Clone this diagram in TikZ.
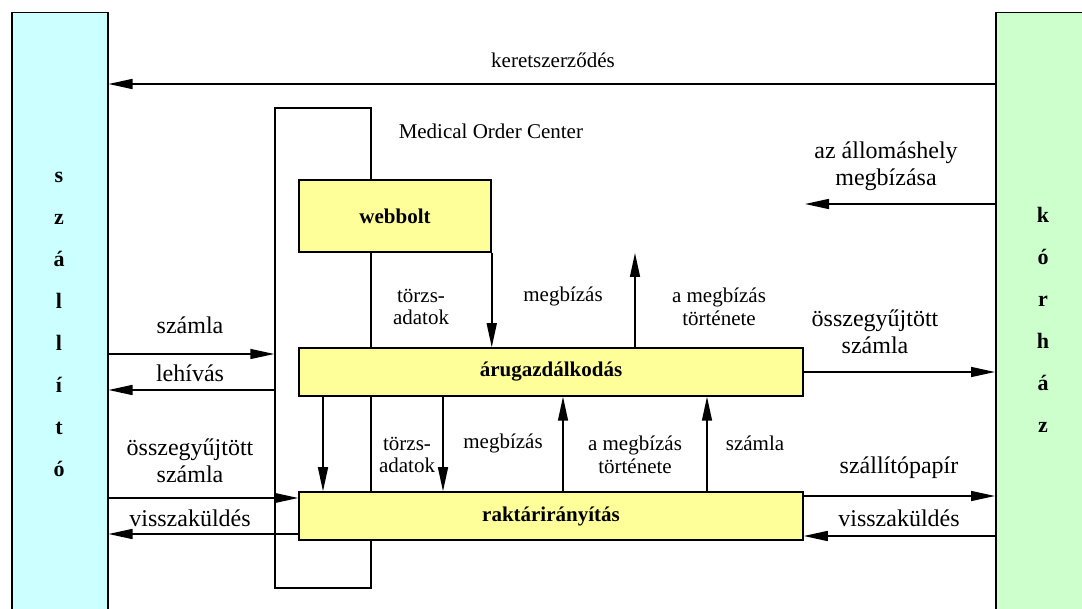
\documentclass[tikz,border=0pt]{standalone}
\usepackage{fontspec}
\setmainfont{LiberationSerif}[Extension=.ttf, UprightFont=*-Regular, BoldFont=*-Bold, ItalicFont=*-Italic, BoldItalicFont=*-BoldItalic]
\usetikzlibrary{arrows.meta}
\definecolor{procfill}{HTML}{FFFF99}
\definecolor{supfill}{HTML}{CCFFFF}
\definecolor{hospfill}{HTML}{CCFFCC}
\begin{document}
\begin{tikzpicture}[x=1pt,y=-1pt,
  line width=1.5pt,
  arr/.style={-{Triangle[length=24pt,width=10pt]}},
  proc/.style={draw, fill=procfill, font=\fontsize{21}{25}\selectfont\bfseries, inner sep=0pt},
  side/.style={draw, inner sep=0pt, anchor=north west, minimum width=110, minimum height=620},
  vert/.style={font=\fontsize{22}{42}\selectfont\bfseries, align=center, inner sep=0pt},
  lbl/.style={font=\fontsize{21}{22.5}\selectfont, align=center, inner sep=0pt},
  slbl/.style={font=\fontsize{24}{27}\selectfont, align=center, inner sep=0pt},
]
\clip (0,0) rectangle (1082,609);
\fill[white] (0,0) rectangle (1082,609);

% side entities
\node[side, fill=supfill, minimum width=96] (sup) at (11,12) {};
\node[vert] (supt) at (59,324) {s\\z\\á\\l\\l\\í\\t\\ó};
\node[side, fill=hospfill, minimum width=120] (hosp) at (995,12) {};
\node[vert] (hospt) at (1043,320) {k\\ó\\r\\h\\á\\z};

% Medical Order Center frame
\node[draw, inner sep=0pt, minimum width=96, minimum height=480] (moc) at (323,348) {};
\node[lbl, anchor=west] (mocl) at (398,131) {Medical Order Center};

% process boxes
\node[proc, minimum width=192, minimum height=72] (web) at (395,216) {webbolt};
\node[proc, minimum width=504, minimum height=48] (aru) at (551,372) {árugazdálkodás};
\node[proc, minimum width=504, minimum height=48] (rak) at (551,516) {raktárirányítás};

% top contract
\draw[arr] (hosp.west |- 0,84) -- (sup.east |- 0,84);
\node[lbl] (kl) at (553,60) {keretszerződés};

% hospital -> station order
\coordinate (ordend) at (805,204);
\draw[arr] (hosp.west |- ordend) -- (ordend);
\node[slbl] (ol) at (886,166) {az állomáshely\\megbízása};

% webbolt -> aru
\draw[arr] (web.south east) -- (aru.north -| web.south east);
\coordinate (upend) at (635,253);
\draw[arr] (aru.north -| upend) -- (upend);
\node[lbl] (l1) at (421,307) {törzs-\\adatok};
\node[lbl] (l2) at (563,296) {megbízás};
\node[lbl] (l3) at (719,307) {a megbízás\\története};

% aru <-> rak
\draw[arr] (aru.south -| 323,0) -- (rak.north -| 323,0);
\draw[arr] (aru.south -| 443,0) -- (rak.north -| 443,0);
\draw[arr] (rak.north -| 563,0) -- (aru.south -| 563,0);
\draw[arr] (rak.north -| 707,0) -- (aru.south -| 707,0);
\node[lbl] (l4) at (407,455) {törzs-\\adatok};
\node[lbl] (l5) at (503,443) {megbízás};
\node[lbl] (l6) at (635,455) {a megbízás\\története};
\node[lbl] (l7) at (755,443) {számla};

% supplier side
\draw[arr] (sup.east |- 0,354) -- (moc.west |- 0,354);
\draw[arr] (moc.west |- 0,390) -- (sup.east |- 0,390);
\draw[arr] (sup.east |- 0,498) -- (rak.west |- 0,498);
\draw[arr] (rak.west |- 0,534) -- (sup.east |- 0,534);
\node[slbl] (s1) at (190,325) {számla};
\node[slbl] (s2) at (190,373) {lehívás};
\node[slbl] (s3) at (190,461) {összegyűjtött\\számla};
\node[slbl] (s4) at (190,518) {visszaküldés};

% hospital side
\draw[arr] (aru.east |- 0,372) -- (hosp.west |- 0,372);
\draw[arr] (rak.east |- 0,496) -- (hosp.west |- 0,496);
\draw[arr] (hosp.west |- 0,536) -- (rak.east |- 0,536);
\node[slbl] (h1) at (875,332) {összegyűjtött\\számla};
\node[slbl] (h2) at (899,468) {szállítópapír};
\node[slbl] (h3) at (899,518) {visszaküldés};
\end{tikzpicture}
\end{document}
